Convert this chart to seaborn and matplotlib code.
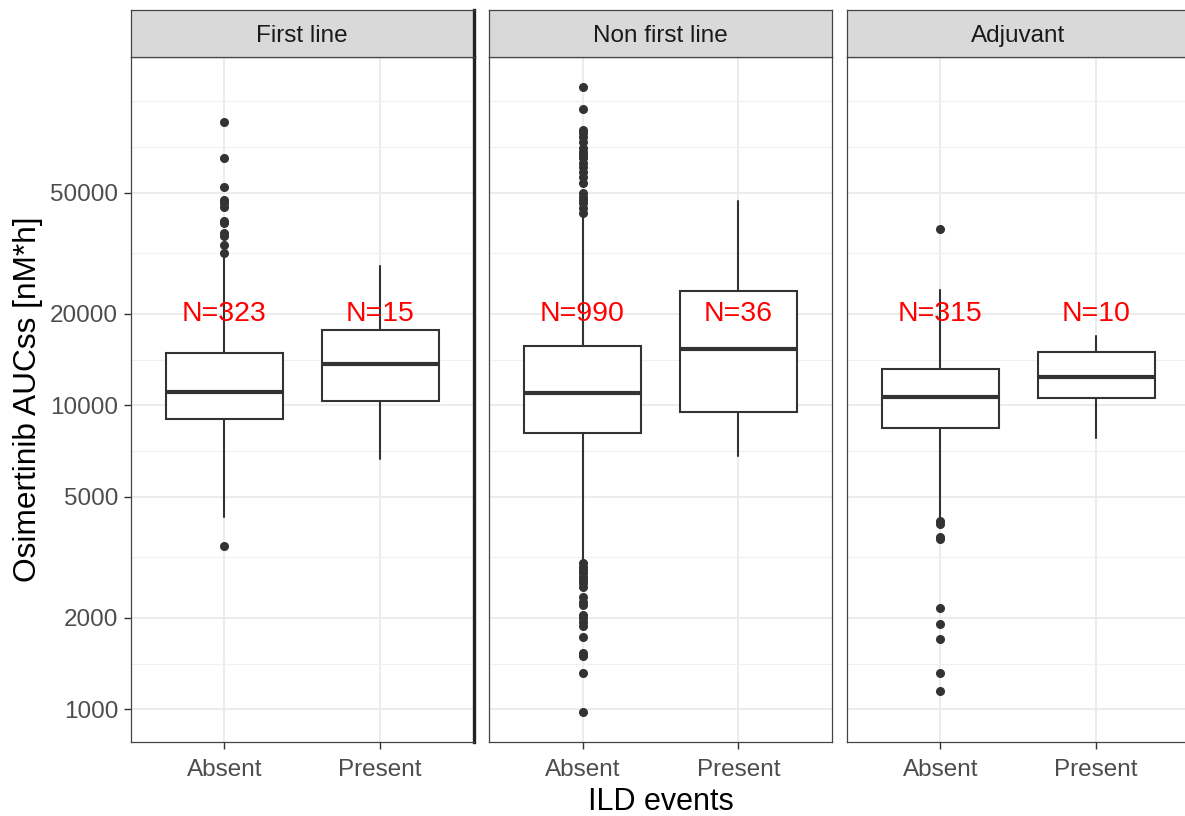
import matplotlib
matplotlib.use("Agg")
import matplotlib.pyplot as plt
from matplotlib.ticker import FixedLocator, FixedFormatter, NullFormatter
import seaborn as sns

# Treatment settings (facets) and ILD event groups (x categories)
lines = ["First line", "Non first line", "Adjuvant"]
ild_levels = ["Absent", "Present"]
n_counts = [[323, 15], [990, 36], [315, 10]]

# Box summary statistics of Osimertinib AUCss [nM*h], per facet and group
whisker_low = [[4302, 6637], [3060, 6810], [4250, 7820]]
q1 = [[8995, 10330], [8128, 9525], [8438, 10540]]
median = [[11086, 13640], [10950, 15300], [10610, 12410]]
q3 = [[14830, 17690], [15700, 23830], [13180, 15000]]
whisker_high = [[31000, 28770], [41700, 47000], [23930, 16950]]

# Outlying observations
outliers_first_absent = [85700, 65240, 52360, 47300, 46130, 44960, 40440,
                         39700, 36810, 36060, 33670, 31620, 3445]
outliers_first_present = []
outliers_nonfirst_absent = [111200, 94340, 80440, 78500, 76140, 73630, 70050,
                            68240, 66550, 64930, 62520, 60950, 58680, 56480,
                            53700, 49790, 48530, 47330, 46150, 44430, 42820,
                            3020, 2944, 2871, 2800, 2730, 2661, 2595, 2530,
                            2345, 2258, 2202, 2043, 1992, 1941, 1879, 1733,
                            1528, 1497, 1313, 977]
outliers_nonfirst_present = []
outliers_adj_absent = [37930, 4150, 4070, 3680, 3620, 2158, 1903, 1708,
                       1320, 1149]
outliers_adj_present = []
outliers = [[outliers_first_absent, outliers_first_present],
            [outliers_nonfirst_absent, outliers_nonfirst_present],
            [outliers_adj_absent, outliers_adj_present]]

y_breaks = [1000, 2000, 5000, 10000, 20000, 50000]
y_minor = [1414, 3162, 7071, 14142, 31623, 70711, 100000]
y_limits = (778.7, 140400)

sns.set_theme(style="whitegrid")
plt.rcParams["font.family"] = ["Liberation Sans", "DejaVu Sans"]

W, H = 1185, 816
fig = plt.figure(figsize=(W / 100, H / 100), dpi=100)
fig.patch.set_facecolor("white")

panel_left = [130.7, 489.0, 846.7]
panel_w = 343.0
panel_top, panel_bottom = 56.5, 742.3
strip_top = 10.0

dark = "#333333"
for k, name in enumerate(lines):
    x0 = panel_left[k] / W
    ax = fig.add_axes([x0, 1 - panel_bottom / H, panel_w / W,
                       (panel_bottom - panel_top) / H])
    ax.set_facecolor("white")
    ax.set_yscale("log")
    ax.set_ylim(*y_limits)
    ax.set_xlim(-0.6, 1.6)

    stats = []
    for j, lvl in enumerate(ild_levels):
        stats.append(dict(label=lvl, whislo=whisker_low[k][j], q1=q1[k][j],
                          med=median[k][j], q3=q3[k][j],
                          whishi=whisker_high[k][j], fliers=outliers[k][j]))
    ax.bxp(stats, positions=[0, 1], widths=0.75, patch_artist=True,
           showcaps=False,
           boxprops=dict(facecolor="white", edgecolor=dark, linewidth=1.5),
           medianprops=dict(color=dark, linewidth=3.0, solid_capstyle="butt"),
           whiskerprops=dict(color=dark, linewidth=1.5),
           flierprops=dict(marker="o", markerfacecolor=dark,
                           markeredgecolor=dark, markersize=5.5,
                           linestyle="none"),
           zorder=3)

    for j, n in enumerate(n_counts[k]):
        ax.text(j, 20000, f"N={n}", color="red", ha="center", va="center",
                fontsize=20.5, zorder=5)

    ax.set_xticks([0, 1])
    ax.set_xticklabels(ild_levels)
    ax.yaxis.set_major_locator(FixedLocator(y_breaks))
    ax.yaxis.set_major_formatter(FixedFormatter([str(b) for b in y_breaks]))
    ax.yaxis.set_minor_locator(FixedLocator(y_minor))
    ax.yaxis.set_minor_formatter(NullFormatter())

    ax.set_axisbelow(True)
    ax.grid(which="major", axis="both", color="#EBEBEB", linewidth=1.3)
    ax.grid(which="minor", axis="y", color="#F0F0F0", linewidth=0.8)

    ax.tick_params(axis="x", which="major", bottom=True, length=5,
                   width=1.0, color=dark, labelsize=17.5,
                   labelcolor="#4D4D4D", pad=7)
    ax.tick_params(axis="y", which="minor", left=False, length=0)
    if k == 0:
        ax.tick_params(axis="y", which="major", left=True, length=5,
                       width=1.0, color=dark, labelsize=17.5,
                       labelcolor="#4D4D4D", pad=4)
    else:
        ax.tick_params(axis="y", which="major", left=False,
                       labelleft=False)
    ax.set_xlabel("")
    ax.set_ylabel("")

    for side, sp in ax.spines.items():
        sp.set_visible(True)
        sp.set_color("#444444")
        sp.set_linewidth(0.9)
    if k == 0:
        ax.spines["right"].set_color("#222222")
        ax.spines["right"].set_linewidth(2.4)
    if k == len(lines) - 1:
        ax.spines["right"].set_visible(False)

    # facet strip
    sax = fig.add_axes([x0, 1 - panel_top / H, panel_w / W,
                        (panel_top - strip_top) / H])
    sax.set_facecolor("#D9D9D9")
    sax.set_xticks([])
    sax.set_yticks([])
    sax.grid(False)
    for sp in sax.spines.values():
        sp.set_visible(True)
        sp.set_color("#444444")
        sp.set_linewidth(0.9)
    if k == 0:
        sax.spines["right"].set_color("#222222")
        sax.spines["right"].set_linewidth(2.4)
    if k == len(lines) - 1:
        sax.spines["right"].set_visible(False)
    sax.text(0.5, 0.44, name, ha="center", va="center", fontsize=17.5,
             color="#1A1A1A", transform=sax.transAxes)

fig.text(28 / W, 1 - 399.4 / H, "Osimertinib AUCss [nM*h]", rotation=90,
         ha="center", va="center", fontsize=22.8, color="black")
fig.text(660.5 / W, 1 - 802 / H, "ILD events", ha="center", va="center",
         fontsize=22, color="black")

fig.savefig("out.png", dpi=100, facecolor="white")
